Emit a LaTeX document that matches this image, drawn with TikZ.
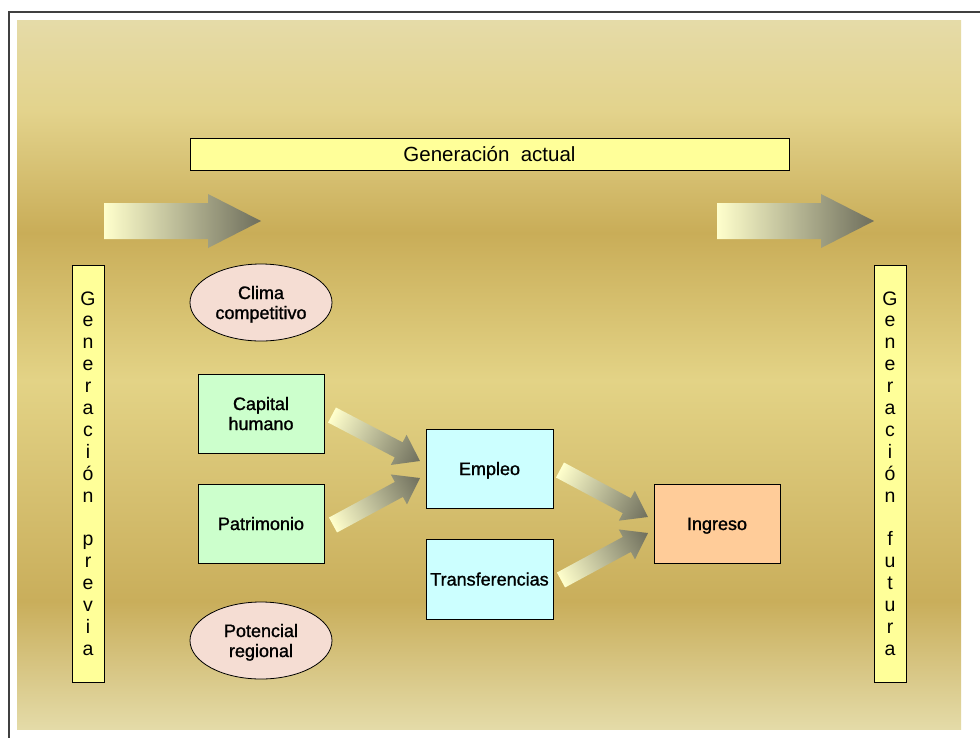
\documentclass[tikz,border=0pt]{standalone}
\usepackage{fontspec}
\setmainfont{Liberation Sans}
\newfontfamily\heavysans{Liberation Sans}[FakeBold=1.2]
\usetikzlibrary{calc,shapes.geometric}

\definecolor{frameC}{HTML}{404040}
\definecolor{bgTop}{HTML}{E5DBA8}
\definecolor{bgMid}{HTML}{E3D38C}
\definecolor{bgDarkA}{HTML}{C9AD58}
\definecolor{bgLight}{HTML}{E3D386}
\definecolor{bgDarkB}{HTML}{C9AE5B}
\definecolor{bgBot}{HTML}{E4DBA8}
\definecolor{yelC}{HTML}{FFFF99}
\definecolor{greenC}{HTML}{CCFFCC}
\definecolor{cyanC}{HTML}{CCFFFF}
\definecolor{peachC}{HTML}{FFCC99}
\definecolor{pinkC}{HTML}{F5DDD3}
\definecolor{arLight}{HTML}{FFFFCC}
\definecolor{arMid}{HTML}{D8D8B0}
\definecolor{arDark}{HTML}{6E6E5C}

\pgfdeclareverticalshading{bgshade}{100bp}{color(0bp)=(bgBot); color(25bp)=(bgBot); color(34bp)=(bgDarkB); color(49.6bp)=(bgLight); color(60bp)=(bgDarkA); color(68.6bp)=(bgMid); color(75bp)=(bgTop); color(100bp)=(bgTop)}

\newcommand\fatarrow[5]{%
  \path let \p1=(#1), \p2=(#2), \n1={atan2(\y2-\y1,\x2-\x1)}, \n2={veclen(\x2-\x1,\y2-\y1)} in
    \pgfextra{\xdef\faang{\n1}\xdef\falen{\n2}\xdef\fax{\x1}\xdef\fay{\y1}};
  \begin{scope}[transform canvas={shift={(\fax,\fay)},rotate=\faang}]
    \shade[left color=arLight, middle color=arMid, right color=arDark]
      (0pt,-#3pt) -- ({\falen-#5pt},-#3pt) -- ({\falen-#5pt},-#4pt) -- (\falen,0pt)
      -- ({\falen-#5pt},#4pt) -- ({\falen-#5pt},#3pt) -- (0pt,#3pt) -- cycle;
  \end{scope}}

\newcommand\lowered[1]{\raisebox{-2.5pt}[\height][\depth]{\begin{tabular}{@{}c@{}}#1\end{tabular}}}

\tikzset{
  box/.style={draw=black, line width=0.8pt, inner sep=0pt, align=center},
  yelbox/.style={box, fill=yelC},
  heavytext/.style={font=\heavysans\fontsize{18pt}{20pt}\selectfont},
  greenbox/.style={box, heavytext, fill=greenC, minimum width=126pt, minimum height=79pt},
  cyanbox/.style={box, heavytext, fill=cyanC, minimum width=127pt, minimum height=79pt},
  peachbox/.style={box, heavytext, fill=peachC, minimum width=126pt, minimum height=79pt},
  oval/.style={box, heavytext, ellipse, fill=pinkC, minimum width=142pt, minimum height=77pt},
  vertbox/.style={yelbox, minimum width=32pt, minimum height=417pt, font=\fontsize{19.5pt}{21.9pt}\selectfont}
}

\begin{document}
\begin{tikzpicture}[x=1pt, y=-1pt, font=\fontsize{18pt}{20.5pt}\selectfont]
\useasboundingbox (0,0) rectangle (980,737);
\clip (0,0) rectangle (980,737);
\fill[white] (0,0) rectangle (980,737);
\draw[frameC, line width=2pt] (9,12) rectangle (1000,760);
\shade[shading=bgshade] (17,20) rectangle (961,729);

\node[yelbox, minimum width=599pt, minimum height=32pt, font=\fontsize{20.5pt}{22pt}\selectfont] (actual) at (489.5,154) {Generación\ \ actual};

\node[vertbox] (previa) at (88,473.5) {G\\e\\n\\e\\r\\a\\c\\i\\ó\\n\\\mbox{}\\p\\r\\e\\v\\i\\a};
\node[vertbox] (futura) at (890,473.5) {G\\e\\n\\e\\r\\a\\c\\i\\ó\\n\\\mbox{}\\f\\u\\t\\u\\r\\a};

\node[oval] (clima) at (261,302.5) {\lowered{Clima\\competitivo}};
\node[oval] (potencial) at (261,640.5) {\lowered{Potencial\\regional}};

\node[greenbox] (capital) at (261,413.5) {\lowered{Capital\\humano}};
\node[greenbox] (patrimonio) at (261,523.5) {\lowered{Patrimonio}};
\node[cyanbox] (empleo) at (489.5,468.5) {\lowered{Empleo}};
\node[cyanbox, minimum height=80pt] (transf) at (489.5,579) {\lowered{Transferencias}};
\node[peachbox] (ingreso) at (717,523.5) {\lowered{Ingreso}};

\coordinate (t1a) at (104,221);
\coordinate (t1b) at (261,221);
\coordinate (t2a) at (717,221);
\coordinate (t2b) at (874,221);
\coordinate (a1a) at (332,415);
\coordinate (a1b) at (420,461);
\coordinate (a2a) at (333,525);
\coordinate (a2b) at (420,478);
\coordinate (a3a) at (560,470);
\coordinate (a3b) at (648,517);
\coordinate (a4a) at (561,580);
\coordinate (a4b) at (648,533);

\fatarrow{t1a}{t1b}{18}{27}{53}
\fatarrow{t2a}{t2b}{18}{27}{53}
\fatarrow{a1a}{a1b}{8.5}{17}{24}
\fatarrow{a2a}{a2b}{8.5}{17}{24}
\fatarrow{a3a}{a3b}{8.5}{17}{24}
\fatarrow{a4a}{a4b}{8.5}{17}{24}
\end{tikzpicture}
\end{document}
